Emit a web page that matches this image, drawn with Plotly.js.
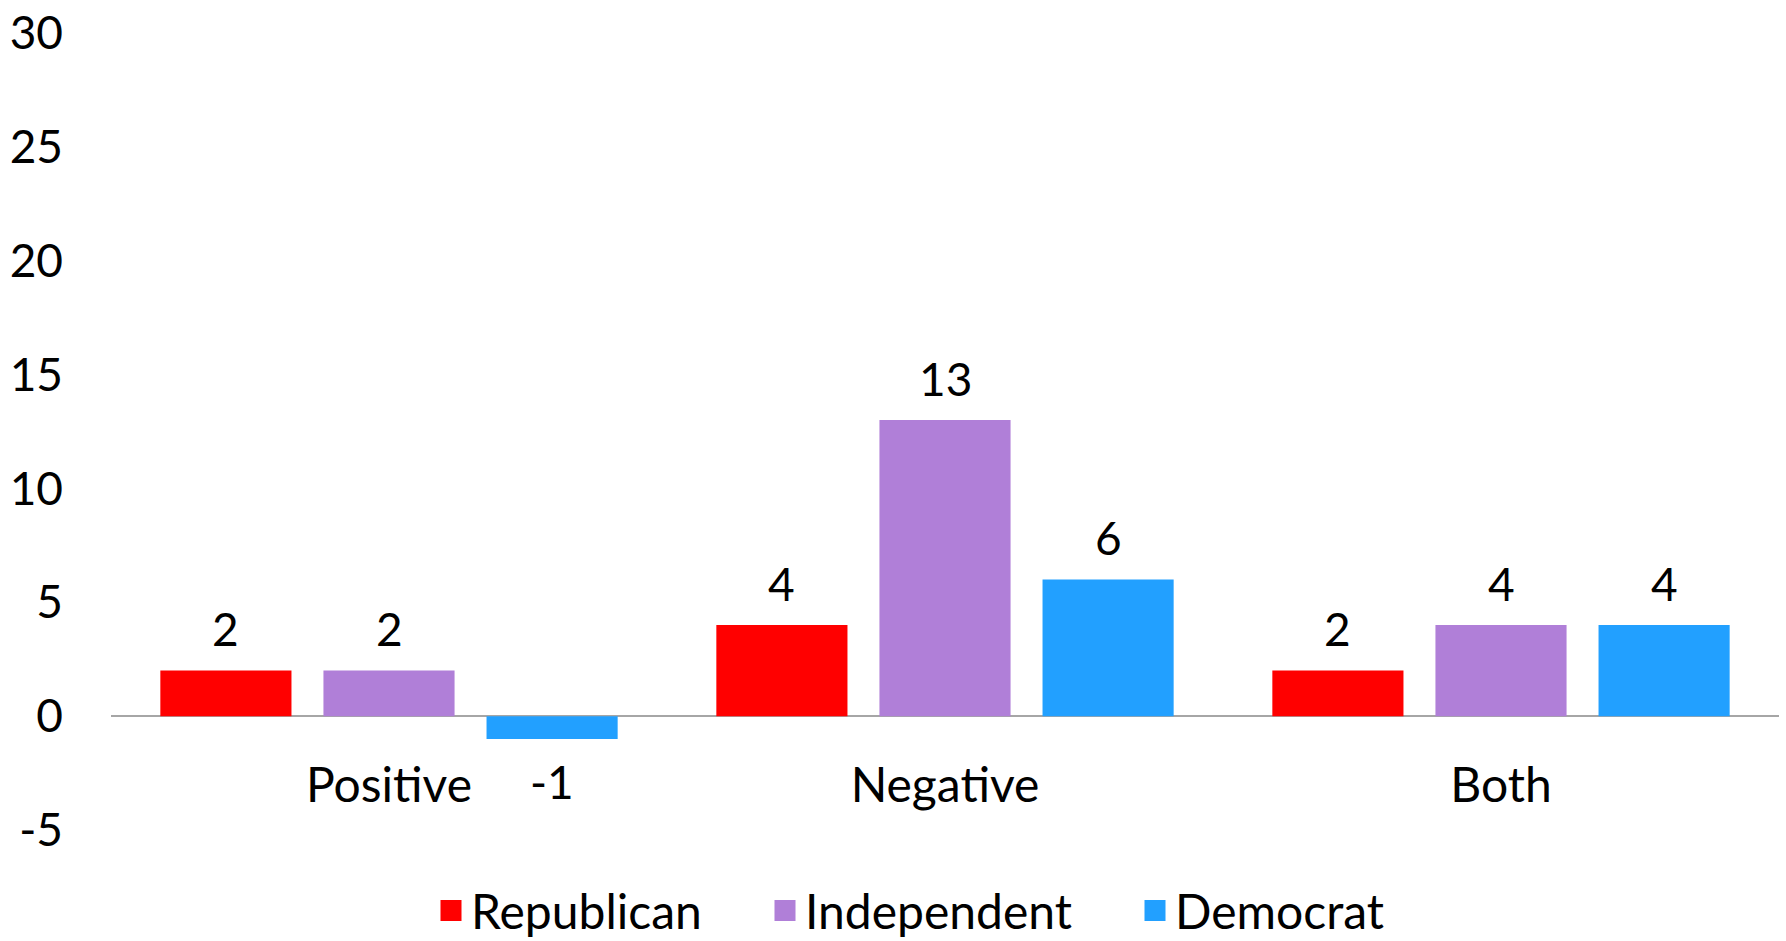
<!DOCTYPE html>
<html>
<head>
<meta charset="utf-8">
<script src="https://cdn.plot.ly/plotly-3.0.1.min.js"></script>
<style>html,body{margin:0;padding:0;background:#fff;}#chart{width:1786px;height:941px;}</style>
</head>
<body>
<div id="chart"></div>
<script>
const categories = ["Positive", "Negative", "Both"];
const seriesNames = ["Republican", "Independent", "Democrat"];
const republican = [2, 4, 2];
const independent = [2, 13, 4];
const democrat = [-1, 6, 4];
const yTickVals = [-5, 0, 5, 10, 15, 20, 25, 30];
const yTickText = ["-5", "0", "5", "10", "15", "20", "25", "30"];
const colors = ["#FF0000", "#B07FD8", "#22A0FF"];

const FONT = "Lato, 'Open Sans', sans-serif";
const BARGAP = 0.12;
const BARGROUPGAP = 0.196;
const values = [republican, independent, democrat];
const legendIds = ["legend", "legend2", "legend3"];
const nSeries = values.length;

// bars (no legend entries; legend drawn by swatch traces below)
const barTraces = values.map((v, i) => ({
  type: "bar",
  name: seriesNames[i],
  x: categories,
  y: v,
  marker: {color: colors[i]},
  showlegend: false,
  hoverinfo: "skip"
}));

// legend swatches (no data drawn)
const legendTraces = values.map((v, i) => ({
  type: "scatter",
  mode: "markers",
  name: seriesNames[i],
  legend: legendIds[i],
  x: [null], y: [null],
  marker: {symbol: "square", size: 16, color: colors[i], line: {color: colors[i], width: 5}},
  showlegend: true
}));

// value labels placed at each bar's end, offset inside the group from the bar layout
const groupWidth = 1 - BARGAP;
const annotations = [];
values.forEach((v, i) => {
  const offset = (i - (nSeries - 1) / 2) * groupWidth / nSeries;
  v.forEach((val, ci) => {
    annotations.push({
      xref: "x", yref: "y", x: ci + offset, y: val,
      text: String(val), showarrow: false,
      xanchor: "center", yanchor: "middle",
      yshift: val >= 0 ? 42 : -43,
      font: {family: FONT, size: 46, color: "#000"}
    });
  });
});

const legendBase = {orientation: "h", xref: "container", yref: "container", xanchor: "left",
  y: 0.032, yanchor: "middle", font: {family: FONT, size: 48, color: "#000"}, bgcolor: "rgba(0,0,0,0)"};

const layout = {
  width: 1786, height: 941,
  margin: {l: 110.5, r: 7, t: 33, b: 110.5, pad: 0},
  paper_bgcolor: "#fff", plot_bgcolor: "#fff",
  font: {family: FONT, size: 44, color: "#000"},
  barmode: "group",
  bargap: BARGAP,
  bargroupgap: BARGROUPGAP,
  showlegend: true,
  legend: Object.assign({}, legendBase, {x: 431 / 1786}),
  legend2: Object.assign({}, legendBase, {x: 765 / 1786}),
  legend3: Object.assign({}, legendBase, {x: 1135 / 1786}),
  annotations: annotations,
  xaxis: {showgrid: false, showline: false, zeroline: false, ticks: "",
          tickfont: {family: FONT, size: 48, color: "#000"}, ticklabelstandoff: -77},
  yaxis: {range: [-5, 30], tickvals: yTickVals, ticktext: yTickText, showgrid: false, showline: false,
          zeroline: true, zerolinecolor: "#A6A6A6", zerolinewidth: 1.5,
          ticks: "", tickfont: {family: FONT, size: 46, color: "#000"}, ticklabelstandoff: 47}
};

Plotly.newPlot("chart", barTraces.concat(legendTraces), layout, {displayModeBar: false, staticPlot: true});
</script>
</body>
</html>
